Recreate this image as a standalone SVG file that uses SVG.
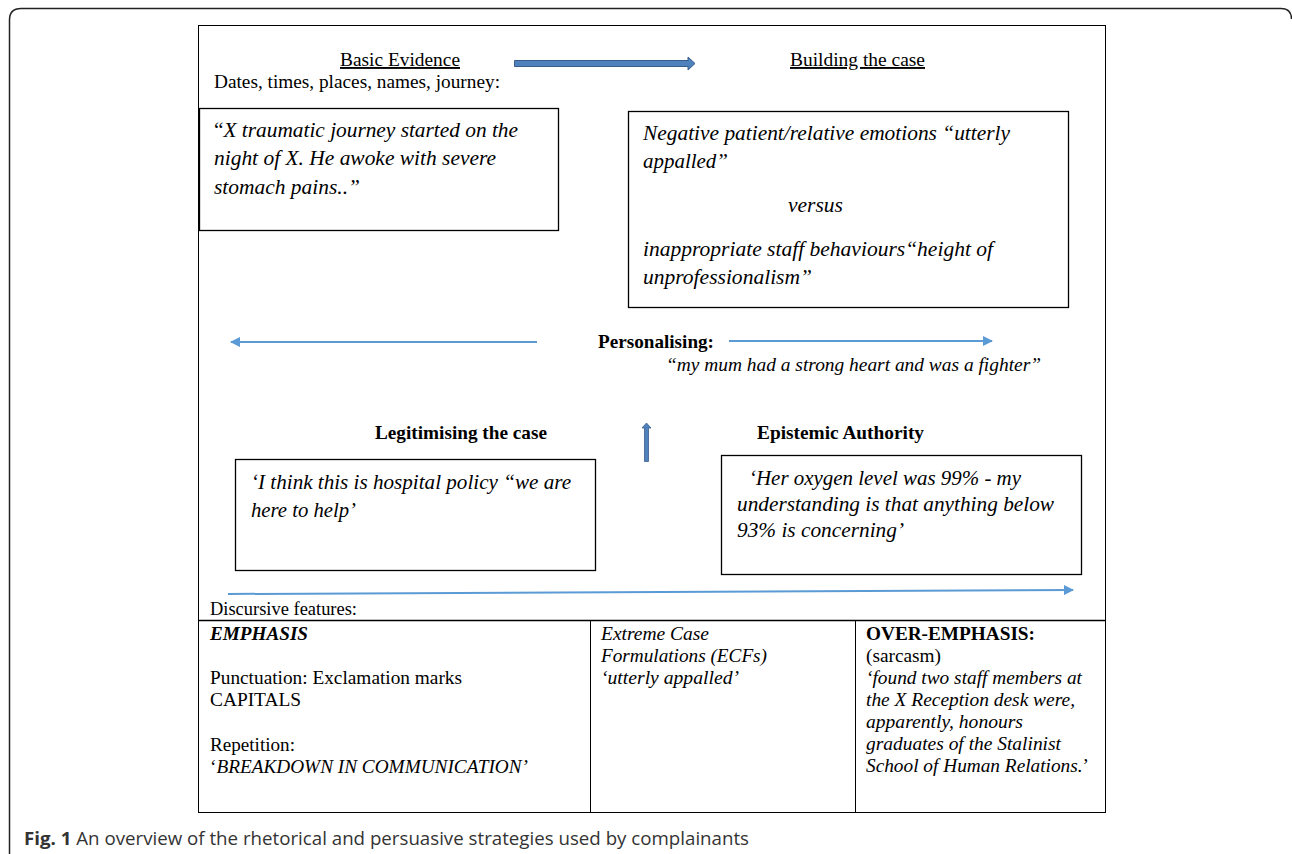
<svg xmlns="http://www.w3.org/2000/svg" width="1292" height="854" viewBox="0 0 1292 854">
<defs>
<style>
.t{font-family:"Liberation Serif","Times New Roman",serif;font-size:19px;fill:#000}
.i{font-family:"Liberation Serif","Times New Roman",serif;font-size:20.5px;font-style:italic;fill:#000}
.b{font-family:"Liberation Serif","Times New Roman",serif;font-size:19px;font-weight:bold;fill:#000}
.ti{font-family:"Liberation Serif","Times New Roman",serif;font-size:19px;font-style:italic;fill:#000}
.box{fill:#fff;stroke:#000;stroke-width:1.3}
.ln{stroke:#5b9bd5;stroke-width:2;fill:none}
.cap{font-family:"Open Sans","Noto Sans",sans-serif;font-size:18.5px;fill:#333}
</style>
<marker id="ah" viewBox="0 0 10 10" refX="9" refY="5" markerWidth="5" markerHeight="5" orient="auto" markerUnits="strokeWidth">
<path d="M0 0 L10 5 L0 10 Z" fill="#5b9bd5"/>
</marker>
</defs>
<rect width="1292" height="854" fill="#fff"/>
<path d="M9.5 854 V20 Q9.5 8.5 21 8.5 H1281 Q1291.5 8.5 1291.5 19" fill="none" stroke="#222" stroke-width="1.5"/>
<rect x="198.5" y="25.5" width="907" height="787" fill="#fff" stroke="#000" stroke-width="1"/>
<g id="table">
<line x1="198.5" y1="620.5" x2="1105.5" y2="620.5" stroke="#000" stroke-width="1.3"/>
<line x1="590.5" y1="620.5" x2="590.5" y2="812.5" stroke="#000" stroke-width="1"/>
<line x1="855.5" y1="620.5" x2="855.5" y2="812.5" stroke="#000" stroke-width="1"/>
</g>
<g id="basic-evidence">
<text class="t" x="340" y="66" textLength="120" lengthAdjust="spacingAndGlyphs" text-decoration="underline">Basic Evidence</text>
<text class="t" x="214" y="88" textLength="286" lengthAdjust="spacingAndGlyphs">Dates, times, places, names, journey:</text>
</g>
<g id="building-case">
<text class="t" x="790" y="66" textLength="135" lengthAdjust="spacingAndGlyphs" text-decoration="underline">Building the case</text>
</g>
<g id="box-journey">
<rect class="box" x="199.5" y="108.5" width="359" height="122"/>
<text class="i" x="214" y="137" textLength="304" lengthAdjust="spacingAndGlyphs"><tspan font-style="normal">“</tspan>X traumatic journey started on the</text>
<text class="i" x="214" y="165" textLength="282" lengthAdjust="spacingAndGlyphs">night of X. He awoke with severe</text>
<text class="i" x="214" y="194" textLength="146" lengthAdjust="spacingAndGlyphs">stomach pains..”</text>
</g>
<g id="box-emotions">
<rect class="box" x="628.5" y="111.5" width="440" height="196"/>
<text class="i" x="643" y="140" textLength="367" lengthAdjust="spacingAndGlyphs">Negative patient/relative emotions “utterly</text>
<text class="i" x="643" y="168" textLength="85" lengthAdjust="spacingAndGlyphs">appalled”</text>
<text class="i" x="788" y="212" textLength="55" lengthAdjust="spacingAndGlyphs">versus</text>
<text class="i" x="643" y="256" textLength="350" lengthAdjust="spacingAndGlyphs">inappropriate staff behaviours“height of</text>
<text class="i" x="643" y="284" textLength="169" lengthAdjust="spacingAndGlyphs">unprofessionalism”</text>
</g>
<g id="personalising">
<text class="b" x="598" y="348" textLength="116" lengthAdjust="spacingAndGlyphs">Personalising:</text>
<text class="ti" x="666" y="371" textLength="375" lengthAdjust="spacingAndGlyphs">“my mum had a strong heart and was a fighter”</text>
</g>
<g id="legitimising">
<text class="b" x="375" y="439" textLength="172" lengthAdjust="spacingAndGlyphs">Legitimising the case</text>
<rect class="box" x="235.5" y="459.5" width="360" height="111"/>
<text class="i" x="251" y="489" textLength="320" lengthAdjust="spacingAndGlyphs">‘I think this is hospital policy “we are</text>
<text class="i" x="251" y="517" textLength="105" lengthAdjust="spacingAndGlyphs">here to help’</text>
</g>
<g id="epistemic">
<text class="b" x="757" y="439" textLength="167" lengthAdjust="spacingAndGlyphs">Epistemic Authority</text>
<rect class="box" x="721.5" y="455.5" width="360" height="119"/>
<text class="i" x="749" y="485" textLength="272" lengthAdjust="spacingAndGlyphs">‘Her oxygen level was 99% - my</text>
<text class="i" x="737" y="511" textLength="317" lengthAdjust="spacingAndGlyphs">understanding is that anything below</text>
<text class="i" x="737" y="537" textLength="167" lengthAdjust="spacingAndGlyphs">93% is concerning’</text>
</g>
<g id="discursive">
<text class="t" x="210" y="615" textLength="147" lengthAdjust="spacingAndGlyphs">Discursive features:</text>
</g>
<g id="col-emphasis">
<text class="t" x="210" y="640" font-weight="bold" font-style="italic" textLength="98" lengthAdjust="spacingAndGlyphs">EMPHASIS</text>
<text class="t" x="210" y="684" textLength="252" lengthAdjust="spacingAndGlyphs">Punctuation: Exclamation marks</text>
<text class="t" x="210" y="706" textLength="91" lengthAdjust="spacingAndGlyphs">CAPITALS</text>
<text class="t" x="210" y="751" textLength="85" lengthAdjust="spacingAndGlyphs">Repetition:</text>
<text class="ti" x="210" y="773" textLength="318" lengthAdjust="spacingAndGlyphs"><tspan font-style="normal">‘</tspan>BREAKDOWN IN COMMUNICATION’</text>
</g>
<g id="col-ecf">
<text class="ti" x="601" y="640" textLength="108" lengthAdjust="spacingAndGlyphs">Extreme Case</text>
<text class="ti" x="601" y="662" textLength="166" lengthAdjust="spacingAndGlyphs">Formulations (ECFs)</text>
<text class="ti" x="601" y="684" textLength="138" lengthAdjust="spacingAndGlyphs">‘utterly appalled’</text>
</g>
<g id="col-over">
<text class="b" x="866" y="640" textLength="169" lengthAdjust="spacingAndGlyphs">OVER-EMPHASIS:</text>
<text class="t" x="866" y="662" textLength="75" lengthAdjust="spacingAndGlyphs">(sarcasm)</text>
<text class="ti" x="866" y="684" textLength="216" lengthAdjust="spacingAndGlyphs">‘found two staff members at</text>
<text class="ti" x="866" y="706" textLength="209" lengthAdjust="spacingAndGlyphs">the X Reception desk were,</text>
<text class="ti" x="866" y="728" textLength="157" lengthAdjust="spacingAndGlyphs">apparently, honours</text>
<text class="ti" x="866" y="750" textLength="195" lengthAdjust="spacingAndGlyphs">graduates of the Stalinist</text>
<text class="ti" x="866" y="772" textLength="223" lengthAdjust="spacingAndGlyphs">School of Human Relations.<tspan font-style="normal">’</tspan></text>
</g>
<g id="connectors">
<path d="M514.5 60.5 H688 V57 L695 63.5 L688 70 V66.5 H514.5 Z" fill="#4f81bd" stroke="#385d8a" stroke-width="1"/>
<line class="ln" x1="537" y1="342" x2="231" y2="342" marker-end="url(#ah)"/>
<line class="ln" x1="729" y1="341" x2="992" y2="341" marker-end="url(#ah)"/>
<path d="M644.5 461.5 V428 H642 L646.5 423 L651 428 H648.5 V461.5 Z" fill="#4f81bd" stroke="#385d8a" stroke-width="0.8"/>
<line class="ln" x1="228" y1="594" x2="1073" y2="590" marker-end="url(#ah)"/>
</g>
<g id="caption">
<text class="cap" x="24" y="845" textLength="725" lengthAdjust="spacingAndGlyphs"><tspan font-weight="bold">Fig. 1</tspan> An overview of the rhetorical and persuasive strategies used by complainants</text>
</g>
</svg>
